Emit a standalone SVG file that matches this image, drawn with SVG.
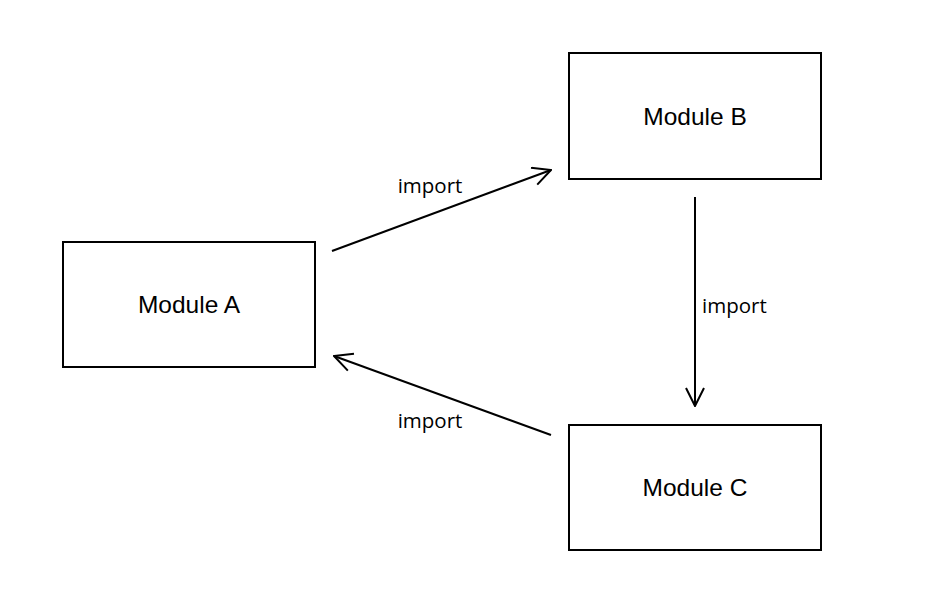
<svg xmlns="http://www.w3.org/2000/svg" width="936" height="611" viewBox="0 0 936 611">
<style>
.box{fill:#fff;stroke:#000;stroke-width:2}
.lbl{font-family:"Liberation Sans",Arial,sans-serif;font-size:24.5px;fill:#000;text-anchor:middle;dominant-baseline:central}
.edge{stroke:#000;stroke-width:2;fill:none}
.el{font-family:"Open Sans","Liberation Sans",sans-serif;font-size:20.5px;fill:#000;dominant-baseline:central}
</style>
<defs>
<marker id="arr" viewBox="0 0 20 20" refX="19" refY="10" markerWidth="20" markerHeight="20" markerUnits="userSpaceOnUse" orient="auto">
<path d="M1,1 L19,10 L1,19" fill="none" stroke="#000" stroke-width="2"/>
</marker>
</defs>
<rect width="936" height="611" fill="#fff"/>
<g id="moduleA"><rect class="box" x="63" y="242" width="252" height="125"/><text class="lbl" x="189" y="304">Module A</text></g>
<g id="moduleB"><rect class="box" x="569" y="53" width="252" height="126"/><text class="lbl" x="695" y="116">Module B</text></g>
<g id="moduleC"><rect class="box" x="569" y="425" width="252" height="125"/><text class="lbl" x="695" y="487">Module C</text></g>
<g id="connectors">
<line class="edge" x1="332" y1="251" x2="551" y2="170" marker-end="url(#arr)"/>
<line class="edge" x1="695" y1="197" x2="695" y2="406" marker-end="url(#arr)"/>
<line class="edge" x1="551" y1="435" x2="334" y2="356" marker-end="url(#arr)"/>
<text class="el" x="430" y="185" text-anchor="middle">import</text>
<text class="el" x="702" y="305">import</text>
<text class="el" x="430" y="420" text-anchor="middle">import</text>
</g>
</svg>
